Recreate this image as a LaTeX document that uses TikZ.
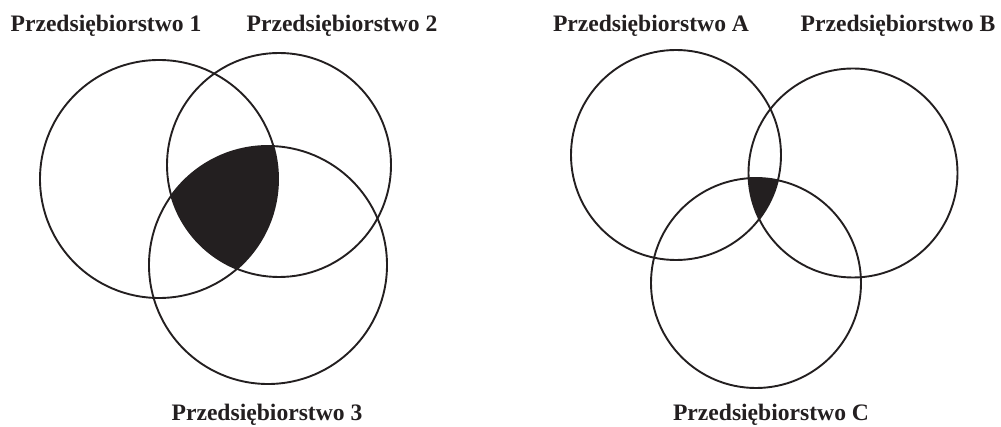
\documentclass[tikz,border=0pt]{standalone}
\usepackage{fontspec}
\setmainfont{Liberation Serif}
\usepackage{tikz}
\definecolor{vnink}{HTML}{231F20}

\begin{document}
\begin{tikzpicture}[
  x=1pt,y=-1pt,
  firm/.style={circle,draw=vnink,line width=1.9pt,inner sep=0pt},
  firmlabel/.style={anchor=base,font=\fontsize{23.6}{28}\selectfont\bfseries,text=vnink,inner sep=0pt}
]
\useasboundingbox (0,0) rectangle (1001,427);
% shared part of all three firms
\begin{scope}
  \clip (159,179) circle[radius=119];
  \clip (279,165) circle[radius=112];
  \fill[vnink] (268,265) circle[radius=119];
\end{scope}
\begin{scope}
  \clip (676,155) circle[radius=105];
  \clip (853,173) circle[radius=104.5];
  \fill[vnink] (756,283) circle[radius=105];
\end{scope}
% left diagram
\node[firm,minimum size=238pt] (p1) at (159,179) {};
\node[firm,minimum size=224pt] (p2) at (279,165) {};
\node[firm,minimum size=238pt] (p3) at (268,265) {};
\node[firmlabel] (l1) at (106,32) {Przedsiębiorstwo 1};
\node[firmlabel] (l2) at (342,32) {Przedsiębiorstwo 2};
\node[firmlabel] (l3) at (267,420) {Przedsiębiorstwo 3};
% right diagram
\node[firm,minimum size=210pt] (pa) at (676,155) {};
\node[firm,minimum size=209pt] (pb) at (853,173) {};
\node[firm,minimum size=210pt] (pc) at (756,283) {};
\node[firmlabel] (la) at (651,32) {Przedsiębiorstwo A};
\node[firmlabel] (lb) at (898,32) {Przedsiębiorstwo B};
\node[firmlabel] (lc) at (771,420) {Przedsiębiorstwo C};
\end{tikzpicture}
\end{document}
